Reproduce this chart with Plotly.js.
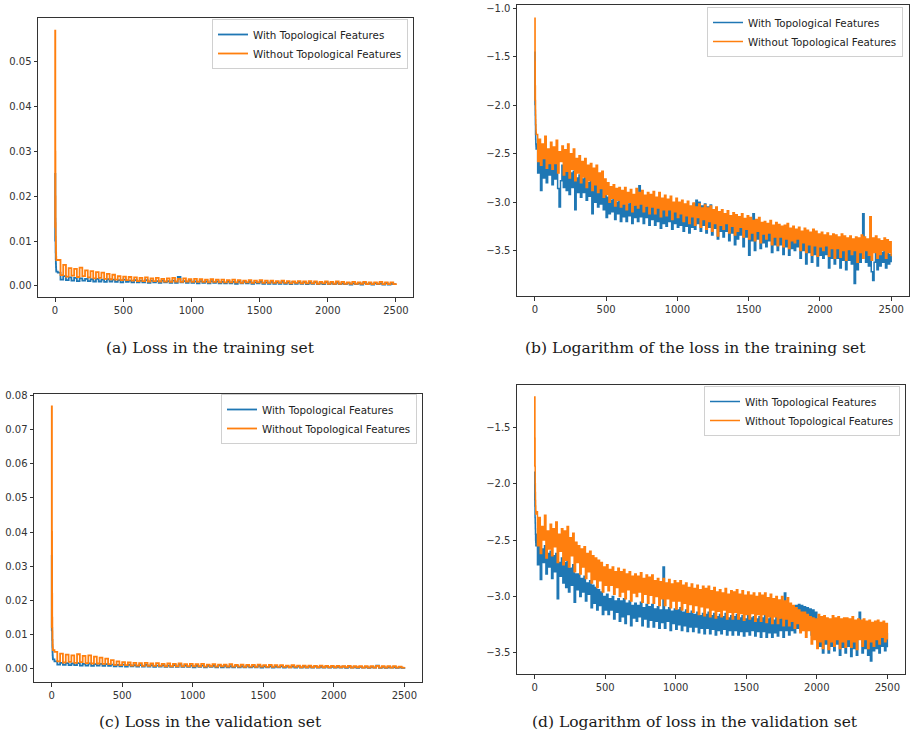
<!DOCTYPE html>
<html>
<head>
<meta charset="utf-8">
<script src="https://cdn.plot.ly/plotly-3.0.1.min.js"></script>
<style>html,body{margin:0;padding:0;background:#fff;}#chart{width:912px;height:738px;}</style>
</head>
<body>
<div id="chart"></div>
<script>
// ---- DATA ----
const SERIES_NAMES = ["With Topological Features", "Without Topological Features"];
const CAPTIONS = ["(a) Loss in the training set", "(b) Logarithm of the loss in the training set",
                  "(c) Loss in the validation set", "(d) Logarithm of loss in the validation set"];
const X_TICKS = [0, 500, 1000, 1500, 2000, 2500];
const Y_TICKS_A = [0, 0.01, 0.02, 0.03, 0.04, 0.05];
const Y_TICKS_B = [-1.0, -1.5, -2.0, -2.5, -3.0, -3.5];
const Y_TICKS_C = [0, 0.01, 0.02, 0.03, 0.04, 0.05, 0.06, 0.07, 0.08];
const Y_TICKS_D = [-1.5, -2.0, -2.5, -3.0, -3.5];

const EPOCHS_EARLY = [0,1,2,3,4,5,6,7,8,9];
const STEP_LINEAR = 20;   // later epochs sampled every 20 for linear panels
const STEP_LOG = 10;      // later epochs sampled every 10 for log panels
const LAST_EPOCH = 2500;

// (a) training loss
const trainLossWith = [0.0100,0.0250,0.0150,0.0100,0.0075,0.0060,0.0050,0.0042,0.0036,0.0032,
0.0030,0.0014,0.0022,0.0013,0.0019,0.0012,0.0018,0.0011,0.0017,0.0012,
0.0016,0.0011,0.0015,0.0010,0.0016,0.0010,0.0014,0.0009,0.0015,0.0010,
0.0014,0.0009,0.0013,0.0008,0.0014,0.0009,0.0012,0.0008,0.0013,0.0008,
0.0012,0.0008,0.0013,0.0007,0.0012,0.0008,0.0011,0.0007,0.0012,0.0008,
0.0011,0.0007,0.0012,0.0007,0.0020,0.0008,0.0011,0.0007,0.0012,0.0007,
0.0010,0.0006,0.0011,0.0007,0.0010,0.0006,0.0011,0.0007,0.0010,0.0006,
0.0009,0.0006,0.0010,0.0006,0.0009,0.0005,0.0010,0.0006,0.0009,0.0006,
0.0009,0.0005,0.0008,0.0006,0.0009,0.0005,0.0008,0.0005,0.0009,0.0005,
0.0008,0.0005,0.0009,0.0005,0.0008,0.0004,0.0009,0.0005,0.0008,0.0005,
0.0008,0.0004,0.0007,0.0005,0.0008,0.0004,0.0007,0.0004,0.0008,0.0004,
0.0007,0.0004,0.0007,0.0004,0.0006,0.0004,0.0007,0.0003,0.0006,0.0004,
0.0006,0.0003,0.0007,0.0004,0.0006,0.0003,0.0006,0.0004,0.0006,0.0003,
0.0006,0.0003,0.0005,0.0004,0.0004];
const trainLossWithout = [0.0130,0.0570,0.0300,0.0200,0.0140,0.0110,0.0090,0.0075,0.0065,0.0058,
0.0058,0.0024,0.0047,0.0021,0.0040,0.0023,0.0038,0.0020,0.0041,0.0022,
0.0035,0.0019,0.0033,0.0017,0.0031,0.0018,0.0030,0.0016,0.0027,0.0015,
0.0025,0.0014,0.0022,0.0013,0.0021,0.0013,0.0020,0.0012,0.0019,0.0011,
0.0018,0.0011,0.0019,0.0010,0.0017,0.0011,0.0018,0.0010,0.0016,0.0010,
0.0017,0.0009,0.0018,0.0010,0.0016,0.0009,0.0017,0.0010,0.0015,0.0009,
0.0016,0.0009,0.0015,0.0009,0.0014,0.0008,0.0015,0.0009,0.0014,0.0008,
0.0014,0.0008,0.0013,0.0008,0.0014,0.0008,0.0013,0.0007,0.0012,0.0008,
0.0013,0.0007,0.0012,0.0008,0.0013,0.0007,0.0012,0.0007,0.0012,0.0007,
0.0011,0.0007,0.0012,0.0007,0.0011,0.0006,0.0010,0.0007,0.0011,0.0006,
0.0010,0.0006,0.0011,0.0006,0.0010,0.0005,0.0009,0.0006,0.0010,0.0005,
0.0009,0.0005,0.0010,0.0005,0.0009,0.0005,0.0008,0.0005,0.0009,0.0005,
0.0008,0.0005,0.0009,0.0004,0.0008,0.0004,0.0008,0.0005,0.0009,0.0004,
0.0008,0.0004,0.0008,0.0004,0.0006];

// (b) log of training loss
const trainLogWith = [-2.00,-1.45,-1.90,-2.10,-2.20,-2.30,-2.35,-2.40,-2.42,-2.45,
-2.40,-2.70,-2.50,-2.88,-2.55,-2.75,-2.52,-2.80,-2.60,-2.72,
-2.55,-2.82,-2.60,-2.76,-2.58,-2.86,-3.05,-2.78,-2.62,-2.85,
-2.65,-2.88,-2.62,-2.92,-2.70,-2.85,-2.68,-3.08,-2.75,-2.90,
-2.72,-2.95,-2.76,-2.90,-2.74,-2.98,-2.80,-2.94,-2.78,-3.12,
-2.82,-3.00,-2.80,-3.05,-2.86,-3.02,-2.84,-3.08,-2.92,-3.16,
-2.95,-3.12,-2.98,-3.10,-2.96,-3.18,-3.00,-3.12,-2.98,-3.20,
-3.00,-3.15,-2.98,-3.20,-3.02,-3.14,-3.00,-3.22,-3.04,-3.16,
-3.00,-3.20,-2.83,-3.15,-3.02,-3.22,-3.05,-3.16,-3.03,-3.24,
-3.05,-3.18,-3.02,-3.24,-3.06,-3.20,-3.04,-3.27,-3.08,-3.22,
-3.06,-3.25,-3.08,-3.20,-3.05,-3.28,-3.10,-3.22,-3.07,-3.26,
-3.10,-3.24,-3.08,-3.30,-3.12,-3.25,-3.09,-3.32,-3.12,-3.26,
-3.02,-3.28,-2.98,-3.22,-3.00,-3.30,-3.04,-3.24,-3.02,-3.32,
-3.05,-3.26,-3.03,-3.34,-3.08,-3.27,-3.06,-3.38,-3.12,-3.30,
-3.14,-3.36,-3.18,-3.30,-3.15,-3.40,-3.20,-3.32,-3.17,-3.44,
-3.20,-3.38,-3.22,-3.34,-3.18,-3.46,-3.24,-3.36,-3.21,-3.55,
-3.24,-3.40,-3.12,-3.50,-3.26,-3.38,-3.23,-3.48,-3.28,-3.42,
-3.27,-3.46,-3.29,-3.40,-3.26,-3.52,-3.31,-3.44,-3.28,-3.50,
-3.30,-3.44,-3.32,-3.54,-3.31,-3.46,-3.29,-3.55,-3.34,-3.48,
-3.33,-3.50,-3.36,-3.46,-3.34,-3.58,-3.38,-3.50,-3.35,-3.64,
-3.37,-3.52,-3.39,-3.62,-3.36,-3.54,-3.38,-3.66,-3.41,-3.55,
-3.40,-3.58,-3.42,-3.54,-3.40,-3.68,-3.44,-3.58,-3.42,-3.64,
-3.44,-3.58,-3.46,-3.68,-3.43,-3.60,-3.45,-3.70,-3.47,-3.60,
-3.46,-3.64,-3.48,-3.84,-3.47,-3.70,-3.48,-3.62,-3.45,-3.12,
-3.46,-3.62,-3.48,-3.66,-3.50,-3.72,-3.81,-3.62,-3.48,-3.70,
-3.50,-3.66,-3.52,-3.62,-3.49,-3.68,-3.51,-3.64,-3.54,-3.62];
const trainLogWithout = [-1.95,-1.10,-1.55,-1.80,-1.95,-2.05,-2.15,-2.20,-2.25,-2.28,
-2.30,-2.58,-2.35,-2.62,-2.40,-2.55,-2.32,-2.65,-2.45,-2.60,
-2.38,-2.66,-2.43,-2.60,-2.36,-2.70,-2.48,-2.58,-2.42,-2.72,
-2.46,-2.68,-2.40,-2.75,-2.50,-2.66,-2.45,-2.78,-2.55,-2.70,
-2.52,-2.80,-2.58,-2.74,-2.55,-2.85,-2.62,-2.78,-2.60,-2.88,
-2.65,-2.82,-2.62,-2.90,-2.70,-2.86,-2.68,-2.95,-2.76,-2.92,
-2.80,-3.00,-2.84,-2.96,-2.82,-3.04,-2.86,-2.98,-2.85,-3.05,
-2.88,-3.02,-2.85,-3.08,-2.90,-3.00,-2.87,-3.10,-2.92,-3.03,
-2.86,-3.06,-2.90,-3.02,-2.88,-3.10,-2.93,-3.04,-2.90,-3.12,
-2.92,-3.05,-2.89,-3.12,-2.95,-3.06,-2.90,-3.15,-2.96,-3.08,
-2.93,-3.14,-2.97,-3.08,-2.94,-3.18,-3.00,-3.10,-2.96,-3.16,
-3.00,-3.12,-2.98,-3.20,-3.02,-3.14,-2.99,-3.22,-3.04,-3.15,
-3.01,-3.24,-3.05,-3.16,-3.02,-3.26,-3.06,-3.18,-3.03,-3.28,
-3.06,-3.20,-3.04,-3.30,-3.08,-3.22,-3.05,-3.35,-3.10,-3.24,
-3.08,-3.28,-3.12,-3.22,-3.09,-3.32,-3.14,-3.25,-3.11,-3.34,
-3.13,-3.30,-3.15,-3.26,-3.12,-3.36,-3.17,-3.28,-3.14,-3.38,
-3.16,-3.32,-3.19,-3.40,-3.18,-3.30,-3.16,-3.42,-3.21,-3.33,
-3.20,-3.38,-3.22,-3.32,-3.19,-3.44,-3.24,-3.36,-3.21,-3.45,
-3.23,-3.36,-3.25,-3.46,-3.24,-3.38,-3.22,-3.48,-3.27,-3.40,
-3.25,-3.42,-3.28,-3.38,-3.26,-3.50,-3.30,-3.42,-3.27,-3.52,
-3.29,-3.44,-3.31,-3.55,-3.28,-3.45,-3.30,-3.56,-3.33,-3.46,
-3.31,-3.50,-3.34,-3.45,-3.32,-3.56,-3.35,-3.48,-3.33,-3.58,
-3.34,-3.48,-3.36,-3.57,-3.33,-3.50,-3.35,-3.60,-3.37,-3.49,
-3.35,-3.54,-3.38,-3.50,-3.36,-3.62,-3.37,-3.52,-3.34,-3.58,
-3.36,-3.50,-3.38,-3.55,-3.15,-3.60,-3.37,-3.52,-3.35,-3.58,
-3.38,-3.54,-3.40,-3.50,-3.37,-3.58,-3.39,-3.52,-3.41,-3.56];

// (c) validation loss
const valLossWith = [0.0110,0.0330,0.0180,0.0120,0.0085,0.0065,0.0050,0.0040,0.0033,0.0028,
0.0022,0.0013,0.0018,0.0012,0.0017,0.0011,0.0016,0.0011,0.0017,0.0010,
0.0015,0.0010,0.0016,0.0009,0.0014,0.0010,0.0015,0.0009,0.0014,0.0009,
0.0013,0.0008,0.0012,0.0008,0.0013,0.0007,0.0012,0.0008,0.0011,0.0007,
0.0011,0.0007,0.0012,0.0007,0.0011,0.0006,0.0010,0.0007,0.0011,0.0006,
0.0010,0.0006,0.0011,0.0006,0.0013,0.0006,0.0010,0.0006,0.0010,0.0005,
0.0009,0.0006,0.0010,0.0005,0.0009,0.0006,0.0009,0.0005,0.0010,0.0005,
0.0009,0.0005,0.0008,0.0005,0.0009,0.0005,0.0008,0.0005,0.0009,0.0005,
0.0008,0.0005,0.0009,0.0004,0.0008,0.0005,0.0008,0.0004,0.0007,0.0005,
0.0008,0.0004,0.0007,0.0005,0.0008,0.0004,0.0007,0.0004,0.0007,0.0004,
0.0007,0.0004,0.0007,0.0004,0.0006,0.0004,0.0007,0.0004,0.0006,0.0004,
0.0006,0.0004,0.0007,0.0003,0.0006,0.0004,0.0006,0.0003,0.0006,0.0004,
0.0006,0.0003,0.0006,0.0004,0.0010,0.0003,0.0006,0.0003,0.0005,0.0004,
0.0005,0.0003,0.0005,0.0003,0.0004];
const valLossWithout = [0.0120,0.0767,0.0400,0.0220,0.0150,0.0110,0.0085,0.0070,0.0060,0.0055,
0.0050,0.0022,0.0045,0.0019,0.0042,0.0021,0.0040,0.0018,0.0043,0.0020,
0.0038,0.0017,0.0040,0.0016,0.0036,0.0016,0.0033,0.0015,0.0030,0.0014,
0.0026,0.0012,0.0022,0.0011,0.0020,0.0011,0.0019,0.0010,0.0018,0.0010,
0.0017,0.0009,0.0018,0.0009,0.0016,0.0009,0.0017,0.0009,0.0015,0.0008,
0.0016,0.0008,0.0015,0.0008,0.0016,0.0008,0.0014,0.0008,0.0015,0.0008,
0.0014,0.0008,0.0015,0.0007,0.0013,0.0008,0.0014,0.0007,0.0013,0.0008,
0.0013,0.0007,0.0014,0.0007,0.0012,0.0007,0.0013,0.0006,0.0012,0.0007,
0.0012,0.0006,0.0013,0.0007,0.0011,0.0006,0.0012,0.0006,0.0011,0.0006,
0.0011,0.0006,0.0010,0.0005,0.0011,0.0006,0.0010,0.0005,0.0010,0.0005,
0.0010,0.0005,0.0009,0.0005,0.0010,0.0005,0.0009,0.0005,0.0009,0.0005,
0.0009,0.0005,0.0008,0.0005,0.0009,0.0004,0.0008,0.0005,0.0008,0.0004,
0.0008,0.0004,0.0008,0.0004,0.0009,0.0004,0.0008,0.0004,0.0008,0.0004,
0.0008,0.0004,0.0007,0.0004,0.0006];

// (d) log of validation loss
const valLogWith = [-2.15,-1.90,-2.20,-2.30,-2.35,-2.40,-2.45,-2.50,-2.52,-2.55,
-2.45,-2.72,-2.52,-2.85,-2.58,-2.70,-2.55,-2.80,-2.62,-2.74,
-2.60,-2.84,-2.64,-2.78,-2.62,-3.02,-2.70,-2.82,-2.66,-2.88,
-2.70,-2.92,-2.68,-2.96,-2.75,-2.90,-2.72,-3.05,-2.80,-2.94,
-2.80,-3.00,-2.84,-2.96,-2.82,-3.04,-2.88,-2.98,-2.86,-3.10,
-2.90,-3.06,-2.92,-3.12,-2.94,-3.08,-2.96,-3.16,-3.00,-3.12,
-2.98,-3.16,-3.02,-3.12,-3.00,-3.20,-3.04,-3.14,-3.02,-3.22,
-3.04,-3.18,-3.02,-3.24,-3.06,-3.16,-3.04,-3.26,-3.08,-3.19,
-3.06,-3.22,-3.08,-3.18,-3.05,-3.26,-3.10,-3.20,-3.07,-3.27,
-3.09,-3.21,-3.07,-3.27,-3.11,-3.22,-3.09,-3.28,-3.12,-3.23,
-2.74,-3.28,-3.12,-3.22,-3.10,-3.30,-3.13,-3.24,-3.11,-3.29,
-3.12,-3.25,-3.10,-3.30,-3.14,-3.26,-3.12,-3.31,-3.15,-3.27,
-3.13,-3.31,-3.16,-3.27,-3.14,-3.32,-3.17,-3.28,-3.15,-3.33,
-3.16,-3.28,-3.14,-3.33,-3.17,-3.29,-3.15,-3.34,-3.18,-3.30,
-3.16,-3.33,-3.18,-3.29,-3.15,-3.34,-3.19,-3.30,-3.17,-3.34,
-3.18,-3.30,-3.16,-3.34,-3.19,-3.31,-3.17,-3.35,-3.20,-3.31,
-3.17,-3.34,-3.19,-3.30,-3.18,-3.35,-3.20,-3.31,-3.18,-3.36,
-3.19,-3.31,-3.17,-3.36,-3.20,-3.32,-3.18,-3.36,-3.21,-3.32,
-3.18,-3.35,-3.20,-3.30,-3.17,-3.36,-2.97,-3.30,-3.18,-3.34,
-3.10,-3.30,-3.09,-3.32,-3.08,-3.28,-3.07,-3.30,-3.08,-3.26,
-3.09,-3.30,-3.10,-3.26,-3.11,-3.34,-3.12,-3.30,-3.14,-3.40,
-3.20,-3.44,-3.22,-3.50,-3.21,-3.42,-3.23,-3.50,-3.24,-3.44,
-3.24,-3.48,-3.26,-3.42,-3.25,-3.52,-3.27,-3.45,-3.26,-3.50,
-3.26,-3.44,-3.28,-3.53,-3.27,-3.46,-3.29,-3.52,-3.28,-3.14,
-3.29,-3.50,-3.30,-3.46,-3.31,-3.52,-3.30,-3.57,-3.32,-3.48,
-3.31,-3.46,-3.30,-3.50,-3.32,-3.44,-3.31,-3.48,-3.33,-3.45];
const valLogWithout = [-1.85,-1.235,-1.60,-1.85,-2.00,-2.08,-2.15,-2.20,-2.24,-2.27,
-2.25,-2.55,-2.30,-2.62,-2.38,-2.50,-2.28,-2.66,-2.42,-2.58,
-2.36,-2.64,-2.40,-2.56,-2.34,-2.70,-2.45,-2.60,-2.40,-2.72,
-2.42,-2.68,-2.38,-2.74,-2.48,-2.64,-2.44,-2.78,-2.52,-2.70,
-2.55,-2.80,-2.58,-2.74,-2.56,-2.84,-2.62,-2.78,-2.60,-2.88,
-2.64,-2.85,-2.66,-2.92,-2.68,-2.86,-2.70,-2.96,-2.74,-2.90,
-2.72,-2.95,-2.76,-2.90,-2.74,-2.98,-2.78,-2.92,-2.75,-3.00,
-2.78,-2.96,-2.76,-3.02,-2.80,-2.94,-2.78,-3.04,-2.82,-2.97,
-2.80,-3.00,-2.82,-2.96,-2.79,-3.05,-2.84,-2.98,-2.81,-3.06,
-2.83,-2.99,-2.81,-3.06,-2.86,-3.00,-2.84,-3.08,-2.87,-3.02,
-2.84,-3.08,-2.88,-3.02,-2.85,-3.10,-2.89,-3.04,-2.86,-3.11,
-2.88,-3.04,-2.86,-3.12,-2.90,-3.06,-2.88,-3.14,-2.92,-3.07,
-2.89,-3.14,-2.93,-3.08,-2.90,-3.16,-2.94,-3.09,-2.91,-3.17,
-2.93,-3.10,-2.91,-3.18,-2.95,-3.12,-2.92,-3.19,-2.96,-3.13,
-2.94,-3.18,-2.97,-3.12,-2.93,-3.20,-2.98,-3.14,-2.95,-3.20,
-2.96,-3.14,-2.94,-3.20,-2.98,-3.15,-2.95,-3.21,-2.99,-3.16,
-2.96,-3.20,-2.99,-3.15,-2.97,-3.22,-3.00,-3.16,-2.97,-3.22,
-2.99,-3.16,-2.97,-3.23,-3.01,-3.18,-2.98,-3.24,-3.02,-3.18,
-3.00,-3.24,-3.03,-3.19,-3.00,-3.26,-3.04,-3.20,-3.01,-3.26,
-3.06,-3.22,-3.08,-3.28,-3.10,-3.24,-3.12,-3.32,-3.14,-3.30,
-3.14,-3.36,-3.16,-3.30,-3.18,-3.42,-3.19,-3.38,-3.20,-3.46,
-3.16,-3.40,-3.18,-3.46,-3.17,-3.38,-3.19,-3.47,-3.20,-3.40,
-3.17,-3.44,-3.19,-3.38,-3.18,-3.46,-3.20,-3.40,-3.19,-3.45,
-3.19,-3.38,-3.20,-3.45,-3.18,-3.40,-3.21,-3.47,-3.20,-3.38,
-3.21,-3.44,-3.20,-3.38,-3.22,-3.46,-3.21,-3.40,-3.23,-3.44,
-3.22,-3.38,-3.21,-3.42,-3.23,-3.36,-3.22,-3.40,-3.24,-3.38];

// ---- epoch axes (index of each recorded value) ----
function epochs(step) {
  const e = EPOCHS_EARLY.slice();
  for (let v = step; v <= LAST_EPOCH; v += step) e.push(v);
  return e;
}
const xLin = epochs(STEP_LINEAR);
const xLog = epochs(STEP_LOG);

// ---- styling ----
const BLUE = '#1f77b4', ORANGE = '#ff7f0e';
const W = 912, H = 738;
function dom(a, b, total) { return [a / total, b / total]; }
function ydom(top, bottom) { return [1 - bottom / H, 1 - top / H]; }

const panels = [
  {xa: 'x',  ya: 'y',  lg: 'legend',  xs: xLin, w: trainLossWith, wo: trainLossWithout, lw: 1.8},
  {xa: 'x2', ya: 'y2', lg: 'legend2', xs: xLog, w: trainLogWith,  wo: trainLogWithout,  lw: 1.5},
  {xa: 'x3', ya: 'y3', lg: 'legend3', xs: xLin, w: valLossWith,   wo: valLossWithout,   lw: 1.8},
  {xa: 'x4', ya: 'y4', lg: 'legend4', xs: xLog, w: valLogWith,    wo: valLogWithout,    lw: 1.5}
];
const traces = [];
panels.forEach(p => {
  traces.push({type: 'scatter', mode: 'lines', x: p.xs, y: p.w, xaxis: p.xa, yaxis: p.ya,
    name: SERIES_NAMES[0], legend: p.lg, line: {color: BLUE, width: p.lw, shape: 'hv'}, hoverinfo: 'skip'});
  traces.push({type: 'scatter', mode: 'lines', x: p.xs, y: p.wo, xaxis: p.xa, yaxis: p.ya,
    name: SERIES_NAMES[1], legend: p.lg, line: {color: ORANGE, width: p.lw, shape: 'hv'}, hoverinfo: 'skip'});
});

const tickFont = {family: 'DejaVu Sans', size: 10, color: '#333'};
function xax(d, anchor) {
  return {domain: d, anchor: anchor, range: [-125, 2625], tickvals: X_TICKS, ticks: 'outside',
    ticklen: 3.5, tickcolor: '#333', tickfont: tickFont, showline: true, mirror: true,
    linecolor: '#333', linewidth: 1, showgrid: false, zeroline: false};
}
function yax(d, anchor, range, tv, fmt) {
  return {domain: d, anchor: anchor, range: range, tickvals: tv, tickformat: fmt, ticks: 'outside',
    ticklen: 3.5, tickcolor: '#333', tickfont: tickFont, showline: true, mirror: true,
    linecolor: '#333', linewidth: 1, showgrid: false, zeroline: false};
}
const legFont = {family: 'DejaVu Sans', size: 10.3, color: '#222'};
function leg(xr, yt) {
  return {x: xr / W, y: 1 - yt / H, xanchor: 'right', yanchor: 'top', bgcolor: 'rgba(255,255,255,0.85)',
    bordercolor: '#d0d0d0', borderwidth: 1, font: legFont, tracegroupgap: 0, itemwidth: 30};
}
const capFont = {family: 'DejaVu Serif', size: 15.5, color: '#1a1a1a'};
function cap(text, cx, cy) {
  return {text: text, x: cx / W, y: 1 - cy / H, xref: 'paper', yref: 'paper', showarrow: false,
    xanchor: 'center', yanchor: 'middle', font: capFont};
}

const layout = {
  width: W, height: H, margin: {l: 0, r: 0, t: 0, b: 0},
  paper_bgcolor: '#fff', plot_bgcolor: '#fff', showlegend: true,
  xaxis:  xax(dom(38, 413, W), 'y'),
  yaxis:  yax(ydom(18, 297), 'x', [-0.00246, 0.0598], Y_TICKS_A, '.2f'),
  xaxis2: xax(dom(517, 909, W), 'y2'),
  yaxis2: yax(ydom(5, 296), 'x2', [-3.97, -0.963], Y_TICKS_B, '.1f'),
  xaxis3: xax(dom(34, 422, W), 'y3'),
  yaxis3: yax(ydom(394, 682), 'x3', [-0.0038, 0.0803], Y_TICKS_C, '.2f'),
  xaxis4: xax(dom(517, 905, W), 'y4'),
  yaxis4: yax(ydom(385, 674), 'x4', [-3.686, -1.128], Y_TICKS_D, '.1f'),
  legend:  leg(408, 19),
  legend2: leg(903, 7),
  legend3: leg(417, 394),
  legend4: leg(900, 386),
  annotations: [
    cap(CAPTIONS[0], 210, 348),
    cap(CAPTIONS[1], 695, 348),
    cap(CAPTIONS[2], 210, 722),
    cap(CAPTIONS[3], 695, 722)
  ]
};
Plotly.newPlot('chart', traces, layout, {staticPlot: true, displayModeBar: false});
</script>
</body>
</html>
